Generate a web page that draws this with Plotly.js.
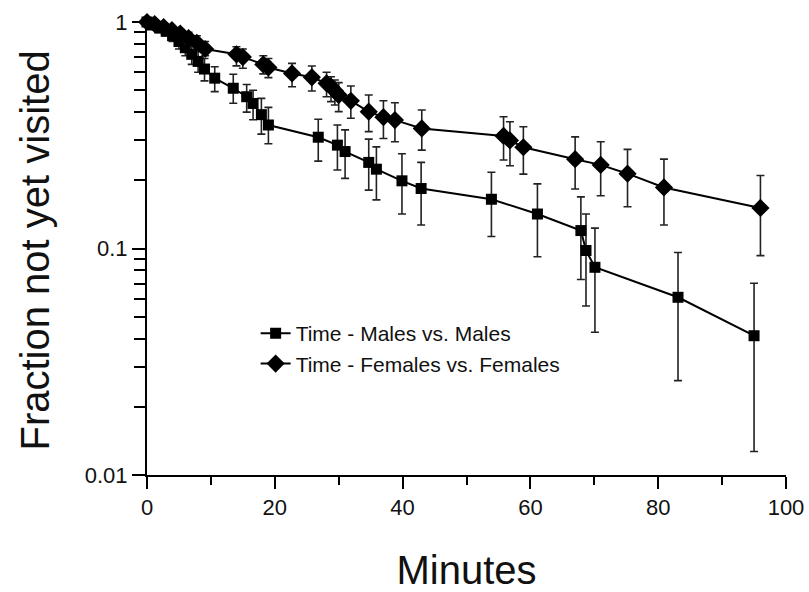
<!DOCTYPE html>
<html>
<head>
<meta charset="utf-8">
<script src="https://cdn.plot.ly/plotly-3.0.1.min.js"></script>
<style>html,body{margin:0;padding:0;background:#fff;}#chart{width:809px;height:592px;}</style>
</head>
<body>
<div id="chart"></div>
<script>
// Males vs. Males (squares)
var maleMinutes = [0, 1, 2, 3, 4, 5, 6, 7, 8, 9, 10.6, 13.5, 15.6, 16.6, 17.9, 19.0, 26.8, 29.8, 31.0, 34.7, 35.9, 39.9, 42.9, 53.9, 61.1, 67.9, 68.7, 70.1, 83.1, 95.0];
var maleFraction = [1, 0.97, 0.94, 0.91, 0.87, 0.82, 0.77, 0.72, 0.67, 0.62, 0.565, 0.51, 0.468, 0.437, 0.39, 0.351, 0.31, 0.286, 0.268, 0.24, 0.224, 0.199, 0.184, 0.165, 0.142, 0.120, 0.098, 0.0826, 0.0609, 0.0412];
var maleHigh = [1, 0.99, 0.97, 0.95, 0.92, 0.88, 0.83, 0.79, 0.74, 0.69, 0.635, 0.588, 0.53, 0.50, 0.46, 0.42, 0.372, 0.351, 0.334, 0.304, 0.281, 0.262, 0.240, 0.217, 0.193, 0.169, 0.142, 0.123, 0.096, 0.0702];
var maleLow = [1, 0.95, 0.91, 0.87, 0.82, 0.76, 0.71, 0.65, 0.60, 0.55, 0.493, 0.438, 0.40, 0.37, 0.32, 0.29, 0.243, 0.222, 0.204, 0.181, 0.164, 0.142, 0.127, 0.113, 0.092, 0.073, 0.0557, 0.0427, 0.0261, 0.0127];

// Females vs. Females (diamonds)
var femaleMinutes = [0, 1.2, 2.6, 3.9, 5.2, 6.5, 7.8, 9.1, 14.0, 15.0, 18.2, 19.0, 22.7, 25.8, 28.1, 28.8, 29.4, 30.0, 31.9, 34.7, 37.0, 38.8, 43.0, 55.8, 56.8, 58.9, 67.0, 71.0, 75.2, 80.9, 96.0];
var femaleFraction = [1, 0.98, 0.95, 0.92, 0.89, 0.85, 0.81, 0.76, 0.72, 0.70, 0.65, 0.63, 0.593, 0.570, 0.536, 0.518, 0.497, 0.476, 0.449, 0.402, 0.380, 0.369, 0.339, 0.314, 0.30, 0.280, 0.248, 0.234, 0.214, 0.186, 0.151];
var femaleHigh = [1, 1.0, 0.98, 0.96, 0.93, 0.90, 0.87, 0.82, 0.778, 0.76, 0.71, 0.69, 0.657, 0.639, 0.60, 0.573, 0.555, 0.54, 0.522, 0.476, 0.449, 0.44, 0.409, 0.382, 0.363, 0.345, 0.311, 0.296, 0.274, 0.248, 0.210];
var femaleLow = [1, 0.96, 0.92, 0.88, 0.85, 0.80, 0.76, 0.71, 0.64, 0.625, 0.59, 0.568, 0.518, 0.496, 0.468, 0.445, 0.43, 0.402, 0.376, 0.328, 0.306, 0.296, 0.272, 0.246, 0.232, 0.213, 0.183, 0.171, 0.153, 0.127, 0.093];

var seriesNames = ['Time - Males vs. Males', 'Time - Females vs. Females'];
var xTickVals = [0, 20, 40, 60, 80, 100];
var yTickVals = [0.01, 0.1, 1];
var yTickText = ['0.01', '0.1', '1'];
var xTitle = 'Minutes';
var yTitle = 'Fraction not yet visited';

function diff(a, b) { return a.map(function (v, i) { return Math.max(0, v - b[i]); }); }

var males = {
  x: maleMinutes, y: maleFraction, name: seriesNames[0], type: 'scatter', mode: 'lines+markers',
  line: {color: '#000', width: 2},
  marker: {symbol: 'square', size: 11, color: '#000'},
  error_y: {type: 'data', symmetric: false, array: diff(maleHigh, maleFraction), arrayminus: diff(maleFraction, maleLow),
            color: '#222', thickness: 1.6, width: 4},
  cliponaxis: false
};
var females = {
  x: femaleMinutes, y: femaleFraction, name: seriesNames[1], type: 'scatter', mode: 'lines+markers',
  line: {color: '#000', width: 2},
  marker: {symbol: 'diamond', size: 14, color: '#000'},
  error_y: {type: 'data', symmetric: false, array: diff(femaleHigh, femaleFraction), arrayminus: diff(femaleFraction, femaleLow),
            color: '#222', thickness: 1.6, width: 4},
  cliponaxis: false
};
// empty helper trace so the overlaying axes (which carry the ticks and labels) are drawn
var axisCarrier = {
  x: [50], y: [0.5], xaxis: 'x2', yaxis: 'y2', type: 'scatter', mode: 'lines',
  showlegend: false, hoverinfo: 'skip', line: {color: 'rgba(0,0,0,0)'}
};

var xRange = [0, 100];
var yRange = [-2, 0.031];

var layout = {
  width: 809, height: 592,
  margin: {l: 147, r: 23, t: 15, b: 117},
  paper_bgcolor: '#fff', plot_bgcolor: '#fff',
  font: {family: 'Liberation Sans, Arial, sans-serif', color: '#111', size: 20},
  showlegend: true,
  legend: {x: 0.17, y: 0.352, xanchor: 'left', yanchor: 'top', bgcolor: 'rgba(0,0,0,0)', borderwidth: 0,
           font: {size: 21, color: '#111'}},
  xaxis: {range: xRange, showline: false, showgrid: false, zeroline: false, ticks: '', showticklabels: false, automargin: false},
  yaxis: {type: 'log', range: yRange, showline: false, showgrid: false, zeroline: false, ticks: '', showticklabels: false, automargin: false},
  xaxis2: {
    overlaying: 'x', anchor: 'y2', side: 'bottom',
    range: xRange, tickmode: 'array', tickvals: xTickVals,
    ticks: 'outside', ticklen: 12, tickwidth: 2, tickcolor: '#000',
    minor: {dtick: 10, tick0: 0, ticks: 'outside', ticklen: 8, tickwidth: 2, tickcolor: '#000'},
    showline: true, linecolor: '#000', linewidth: 2, showgrid: false, zeroline: false,
    tickfont: {size: 22, color: '#111'},
    title: {text: xTitle, font: {size: 40, color: '#111'}, standoff: 47},
    automargin: false
  },
  yaxis2: {
    overlaying: 'y', anchor: 'x2', side: 'left',
    type: 'log', range: yRange, tickmode: 'array', tickvals: yTickVals, ticktext: yTickText,
    ticks: 'outside', ticklen: 13, tickwidth: 2, tickcolor: '#000',
    minor: {dtick: 'D1', ticks: 'outside', ticklen: 11, tickwidth: 2, tickcolor: '#000'},
    showline: true, linecolor: '#000', linewidth: 2, showgrid: false, zeroline: false,
    tickfont: {size: 22, color: '#111'},
    automargin: false
  },
  annotations: [{
    text: yTitle, xref: 'paper', yref: 'paper', x: -0.176, y: 0.487,
    xanchor: 'center', yanchor: 'middle', textangle: -90, showarrow: false,
    font: {size: 40, color: '#111'}
  }]
};

Plotly.newPlot('chart', [males, females, axisCarrier], layout, {staticPlot: true});
</script>
</body>
</html>
